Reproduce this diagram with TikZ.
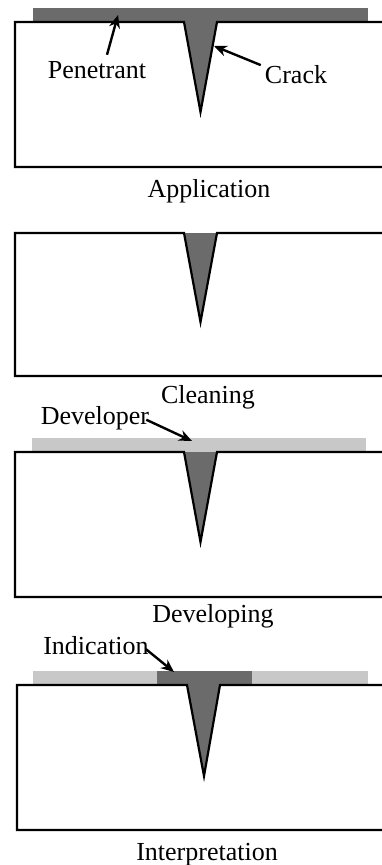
\documentclass[tikz,border=0pt]{standalone}
\usepackage{fontspec}
\setmainfont{Liberation Serif}
\usetikzlibrary{arrows.meta}
\definecolor{pen}{HTML}{6B6B6B}
\definecolor{dev}{HTML}{C8C8C8}
\tikzset{
  lbl/.style={anchor=base, inner sep=0pt, font=\fontsize{26}{30}\selectfont},
  part/.style={draw=black, line width=2.2pt, line join=miter},
  crackfill/.style={fill=pen},
  ptr/.style={line width=2.4pt, -{Stealth[length=13pt,width=11pt]}},
}
\begin{document}
\begin{tikzpicture}[x=1pt,y=-1pt]
\useasboundingbox (0,0) rectangle (382,865);
\clip (0,0) rectangle (382,865);
% ---------- Panel 1: Application ----------
\fill[pen] (33,8) rectangle (368,22);
\fill[crackfill] (184,22) -- (200.5,112) -- (217,22) -- cycle;
\draw[part] (390,22) -- (217,22) -- (200.5,112) -- (184,22) -- (15,22) -- (15,167) -- (390,167);
\node[lbl] (penet) at (97,78) {Penetrant};
\node[lbl] (crack) at (296,83) {Crack};
\node[lbl] (appl) at (209,197) {Application};
\coordinate (penTip) at (118,15);
\coordinate (crackTip) at (214,46);
\draw[ptr] (penet.north) ++(10,-6) -- (penTip);
\draw[ptr] (crack.west) ++(-4,-9) -- (crackTip);
% ---------- Panel 2: Cleaning ----------
\fill[crackfill] (184,233) -- (200.5,322) -- (217,233) -- cycle;
\draw[part] (390,233) -- (217,233) -- (200.5,322) -- (184,233) -- (15,233) -- (15,376) -- (390,376);
\node[lbl] (clean) at (208,403) {Cleaning};
% ---------- Panel 3: Developing ----------
\fill[dev] (32,438) rectangle (366,452);
\fill[crackfill] (184,452) -- (200.5,542) -- (217,452) -- cycle;
\draw[part] (390,452) -- (217,452) -- (200.5,542) -- (184,452) -- (15,452) -- (15,597) -- (390,597);
\node[lbl] (devlab) at (95,424) {Developer};
\node[lbl] (devg) at (213,622) {Developing};
\coordinate (devTip) at (192,441);
\draw[ptr] (devlab.east) ++(-3,2) -- (devTip);
% ---------- Panel 4: Interpretation ----------
\fill[dev] (33,671) rectangle (368,685);
\fill[pen] (157,671) rectangle (252,685);
\fill[crackfill] (187,685) -- (204,776) -- (220,685) -- cycle;
\draw[part] (390,685) -- (220,685) -- (204,776) -- (187,685) -- (17,685) -- (17,830) -- (390,830);
\node[lbl] (indic) at (96,654) {Indication};
\node[lbl] (interp) at (207,860) {Interpretation};
\coordinate (indTip) at (174,672);
\draw[ptr] (indic.east) ++(-3,4) -- (indTip);
\end{tikzpicture}
\end{document}
